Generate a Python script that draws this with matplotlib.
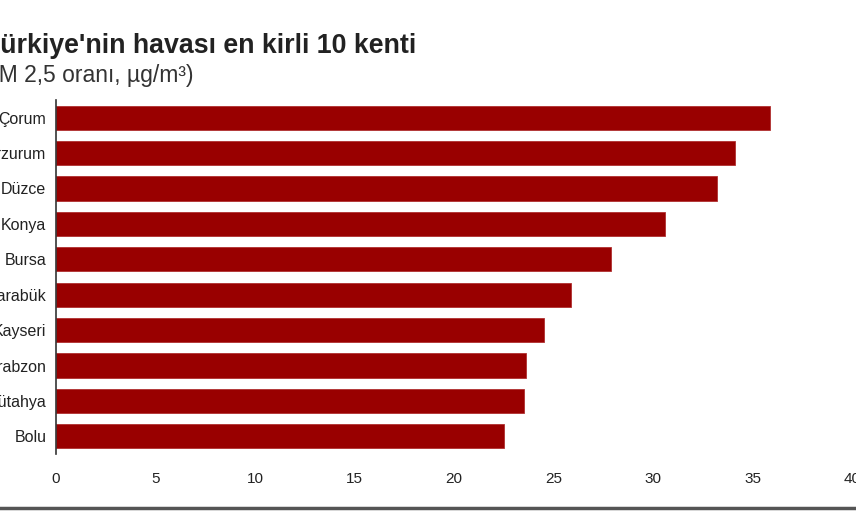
import matplotlib.pyplot as plt

cities = ['Çorum', 'Erzurum', 'Düzce', 'Konya', 'Bursa', 'Karabük',
          'Kayseri', 'Trabzon', 'Kütahya', 'Bolu']
pm25 = [35.9, 34.1, 33.2, 30.6, 27.9, 25.9, 24.5, 23.6, 23.5, 22.5]
xticks = [0, 5, 10, 15, 20, 25, 30, 35, 40]

plt.rcParams['font.family'] = ['Liberation Sans', 'DejaVu Sans']

fig = plt.figure(figsize=(8.56, 5.11), dpi=100)
ax = fig.add_axes([56 / 856, 1 - 454 / 511, 796 / 856, 354 / 511])

ypos = list(range(len(cities)))
ax.barh(ypos, pm25, height=0.68, color='#990000', edgecolor='#b03030', linewidth=0.6)
ax.set_ylim(len(cities) - 0.5, -0.5)
ax.set_xlim(0, 40)
ax.set_yticks(ypos)
ax.set_yticklabels(cities, fontsize=11.5, color='#222222')
ax.set_xticks(xticks)
ax.set_xticklabels([str(t) for t in xticks], fontsize=11, color='#222222')
ax.tick_params(axis='y', length=0, pad=7)
ax.tick_params(axis='x', length=0, pad=13)
for s in ['top', 'right', 'bottom']:
    ax.spines[s].set_visible(False)
ax.spines['left'].set_color('#333333')
ax.spines['left'].set_linewidth(1.2)

fig.text(-16 / 856, 1 - 53 / 511, "Türkiye'nin havası en kirli 10 kenti",
         fontsize=19.3, fontweight='bold', color='#222222')
fig.text(-24 / 856, 1 - 82 / 511, '(PM 2,5 oranı, µg/m³)',
         fontsize=16.5, color='#333333')

# bottom rule
fig.add_artist(plt.Line2D([0, 1], [3 / 511, 3 / 511], color='#555555', linewidth=2.5))

fig.savefig('out.png', dpi=100)
